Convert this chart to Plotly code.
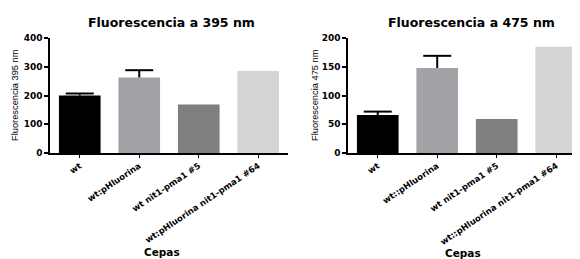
import plotly.graph_objects as go

cats_left = ["wt", "wt:pHluorina", "wt nit1-pma1 #5", "wt:pHluorina nit1-pma1 #64"]
cats_right = ["wt", "wt::pHluorina", "wt nit1-pma1 #5", "wt::pHluorina nit1-pma1 #64"]
vals_395 = [200, 263, 169, 285]
err_395 = [7, 25, None, None]
vals_475 = [66, 148, 59, 185]
err_475 = [6, 21, None, None]
bar_colors = ["#000000", "#a2a2a7", "#7f7f7f", "#d4d4d4"]

W, H = 580, 259
OFF = 8  # page body margin
BOLD = "DejaVu Sans"
REG = "Liberation Sans"

fig = go.Figure()

def add_bars(cats, vals, errs, xa, ya):
    fig.add_trace(go.Bar(x=cats, y=vals,
                         marker=dict(color=bar_colors, line=dict(width=0)),
                         width=0.7, xaxis=xa, yaxis=ya, showlegend=False))
    idx = [i for i, e in enumerate(errs) if e is not None]
    ex = [cats[i] for i in idx]
    etop = [vals[i] + errs[i] for i in idx]
    # vertical stem of the upper error bar
    fig.add_trace(go.Scatter(x=ex, y=[vals[i] for i in idx], mode="markers",
                             marker=dict(size=1, opacity=0),
                             error_y=dict(type="data", symmetric=False,
                                          array=[errs[i] for i in idx], arrayminus=[0] * len(idx),
                                          color="black", thickness=2, width=0),
                             xaxis=xa, yaxis=ya, showlegend=False, hoverinfo="skip"))
    # cap at the top
    fig.add_trace(go.Scatter(x=ex, y=etop, mode="markers",
                             marker=dict(symbol="line-ew", size=20,
                                         line=dict(color="black", width=2)),
                             xaxis=xa, yaxis=ya, showlegend=False, hoverinfo="skip"))

add_bars(cats_left, vals_395, err_395, "x", "y")
add_bars(cats_right, vals_475, err_475, "x2", "y2")

def px_x(p):
    return (p - OFF) / W

def px_y(p):
    return 1 - (p - OFF) / H

ydom = [px_y(153), px_y(38)]
xaxis_common = dict(showline=True, linecolor="black", linewidth=1.5, ticks="outside",
                    ticklen=3, tickwidth=1.2, tickcolor="black", tickangle=-34,
                    tickfont=dict(family=BOLD, size=8.5, color="black", weight="bold"),
                    showgrid=False, zeroline=False, automargin=False, fixedrange=True,
                    type="category")
yaxis_common = dict(showline=True, linecolor="black", linewidth=1.5, ticks="outside",
                    ticklen=4, tickwidth=1.5, tickcolor="black",
                    tickfont=dict(family=BOLD, size=9, color="black", weight="bold"),
                    showgrid=False, zeroline=False, automargin=False, fixedrange=True)

fig.update_layout(
    width=W, height=H,
    margin=dict(l=0, r=0, t=0, b=0),
    paper_bgcolor="white", plot_bgcolor="white",
    xaxis=dict(domain=[px_x(50), px_x(288)], range=[-0.5, 3.5], anchor="y",
               categoryorder="array", categoryarray=cats_left, **xaxis_common),
    yaxis=dict(domain=ydom, range=[0, 400], dtick=100, anchor="x", **yaxis_common),
    xaxis2=dict(domain=[px_x(348), px_x(580)], range=[-0.5, 3.4], anchor="y2",
                categoryorder="array", categoryarray=cats_right, **xaxis_common),
    yaxis2=dict(domain=ydom, range=[0, 200], dtick=50, anchor="x2", **yaxis_common),
)

ann = [
    dict(text="Fluorescencia a 395 nm", x=px_x(171), y=px_y(22), font=dict(family=BOLD, size=12.5, weight="bold")),
    dict(text="Fluorescencia a 475 nm", x=px_x(471), y=px_y(22), font=dict(family=BOLD, size=12.5, weight="bold")),
    dict(text="Fluorescencia 395 nm", x=px_x(15), y=px_y(95), textangle=-90, font=dict(family=REG, size=9.3)),
    dict(text="Fluorescencia 475 nm", x=px_x(315), y=px_y(95), textangle=-90, font=dict(family=REG, size=9.3)),
    dict(text="Cepas", x=px_x(162), y=px_y(252), font=dict(family=BOLD, size=10.5, weight="bold")),
    dict(text="Cepas", x=px_x(463), y=px_y(253), font=dict(family=BOLD, size=10.5, weight="bold")),
]
for a in ann:
    a["font"]["color"] = "black"
    fig.add_annotation(xref="paper", yref="paper", xanchor="center", yanchor="middle",
                       showarrow=False, **a)

fig.write_html("out.html")
